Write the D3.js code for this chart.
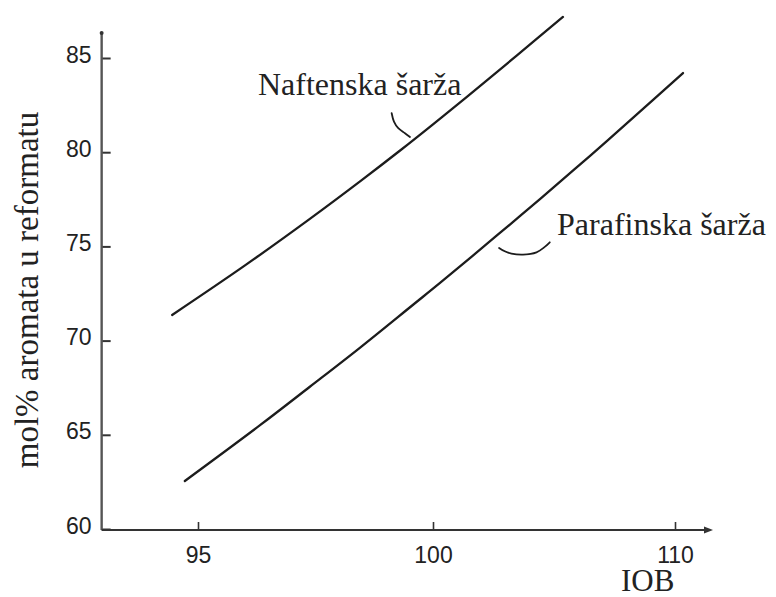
<!DOCTYPE html>
<html>
<head>
<meta charset="utf-8">
<script src="https://cdn.jsdelivr.net/npm/d3@7"></script>
<style>
  html, body { margin: 0; padding: 0; background: #fff; }
  svg { display: block; }
</style>
</head>
<body>
<svg id="chart" width="776" height="597"></svg>
<script>
// Octane number (IOB) axis: breakpoints of the printed scale
const xTicks = [95, 100, 110];
const yTicks = [60, 65, 70, 75, 80, 85];

// Naphthenic feed
const naftIOB  = [94.45, 96.00, 97.38, 98.49, 99.30, 100.00, 101.40, 103.47, 105.37];
const naftArom = [71.36, 73.99, 76.46, 78.53, 80.09, 81.48, 82.94, 85.14, 87.18];

// Paraffinic feed
const parIOB  = [94.72, 96.32, 97.38, 98.45, 99.57, 100.29, 102.64, 104.42, 106.49, 108.55, 110.33];
const parArom = [62.55, 65.51, 67.55, 69.63, 71.89, 73.06, 75.58, 77.51, 79.81, 82.15, 84.20];

// Curve labels with the point on the curve their leader hooks point to
const labelText = ["Naftenska šarža", "Parafinska šarža"];
const labelIOB  = [99.51, 102.73];
const labelArom = [80.81, 74.92];

const xTitle = "IOB";
const yTitle = "mol% aromata u reformatu";

const svg = d3.select("#chart");

// The printed IOB axis is not uniform: 95→100 is wider than 100→110
const x = d3.scaleLinear().domain(xTicks).range([198, 433, 675]);
const y = d3.scaleLinear().domain([60, 85]).range([529, 58]);

const xStart = 92.95, xEnd = 111.57, yTop = 86.33;

const ink = "#1c1c1c";
const sans = "'Liberation Sans', Arial, sans-serif";
const serif = "'Liberation Serif', 'Times New Roman', serif";

// ---- axes ----
const yAxis = d3.axisLeft(y).tickValues(yTicks).tickSizeInner(-9).tickSizeOuter(0).tickPadding(10);
const gy = svg.append("g").attr("transform", `translate(${x(xStart)},0)`).call(yAxis);
gy.select(".domain").remove();
gy.selectAll(".tick line").attr("stroke", "#333").attr("stroke-width", 2);
gy.selectAll(".tick text")
  .attr("dy", "0.18em")
  .style("font-family", sans).style("font-size", "23px").attr("fill", "#222");

const xAxis = d3.axisBottom(x).tickValues(xTicks).tickSizeInner(-8).tickSizeOuter(0).tickPadding(17);
const gx = svg.append("g").attr("transform", `translate(0,${y(60) + 1})`).call(xAxis);
gx.select(".domain").remove();
gx.selectAll(".tick line").attr("stroke", "#333").attr("stroke-width", 1.6);
gx.selectAll(".tick text")
  .style("font-family", sans).style("font-size", "23px").attr("fill", "#222");

// axis lines
svg.append("line")
  .attr("x1", x(xStart)).attr("x2", x(xStart))
  .attr("y1", y(60) + 1).attr("y2", y(yTop))
  .attr("stroke", "#555").attr("stroke-width", 2.4);
svg.append("circle")
  .attr("cx", x(xStart)).attr("cy", y(yTop)).attr("r", 2).attr("fill", "#333");

svg.append("line")
  .attr("x1", x(xStart)).attr("x2", x(xEnd) - 4)
  .attr("y1", y(60) + 1).attr("y2", y(60) + 1)
  .attr("stroke", "#333").attr("stroke-width", 2);
// arrow head at the end of the IOB axis
const ax = x(xEnd), ay = y(60) + 1;
svg.append("path")
  .attr("d", `M${ax},${ay} L${ax - 9},${ay - 3.5} L${ax - 9},${ay + 3.5} Z`)
  .attr("fill", "#333");

// axis titles
svg.append("text")
  .attr("x", 621).attr("y", 591)
  .style("font-family", serif).style("font-size", "31px").attr("fill", "#222")
  .text(xTitle);

svg.append("text")
  .attr("transform", `translate(38,290) rotate(-90)`)
  .attr("text-anchor", "middle")
  .style("font-family", serif).style("font-size", "33px").attr("fill", "#222")
  .text(yTitle);

// ---- curves ----
const line = d3.line()
  .x(d => x(d[0]))
  .y(d => y(d[1]))
  .curve(d3.curveCatmullRom.alpha(0.5));

const series = [
  d3.zip(naftIOB, naftArom),
  d3.zip(parIOB, parArom)
];

svg.append("g").selectAll("path")
  .data(series)
  .join("path")
  .attr("d", line)
  .attr("fill", "none")
  .attr("stroke", ink)
  .attr("stroke-width", 2.3)
  .attr("stroke-linecap", "round");

// ---- labels with leader hooks ----
const hookShapes = [
  [[-18.3, -23.7], [-16, -15.3], [-11.7, -8.7], [-5, -3.7], [0, 0]],
  [[0, 0], [5.7, 3.4], [12.4, 5.7], [24, 6.7], [37.4, 4.4], [45.7, -1], [50.7, -5.6]]
];
const textOffsets = [[-152, -42], [58, -13]];

const hook = d3.line().curve(d3.curveCatmullRom.alpha(0.5));

labelText.forEach((t, i) => {
  const px = x(labelIOB[i]), py = y(labelArom[i]);
  svg.append("path")
    .attr("d", hook(hookShapes[i].map(p => [px + p[0], py + p[1]])))
    .attr("fill", "none")
    .attr("stroke", ink)
    .attr("stroke-width", 1.8)
    .attr("stroke-linecap", "round");
  svg.append("text")
    .attr("x", px + textOffsets[i][0])
    .attr("y", py + textOffsets[i][1])
    .style("font-family", serif).style("font-size", "32px").attr("fill", "#222")
    .text(t);
});
</script>
</body>
</html>
